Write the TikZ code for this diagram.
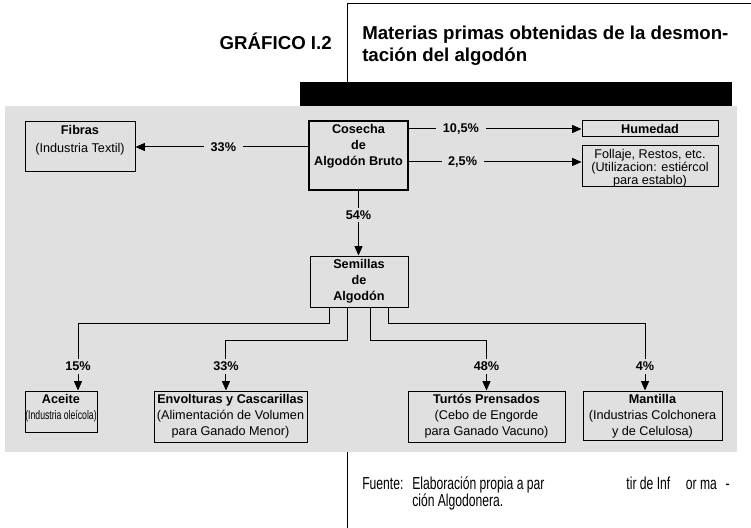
\documentclass[tikz,border=0pt]{standalone}
\usepackage{fontspec}
\setmainfont{Liberation Sans}
\newfontfamily\estrecha{Liberation Sans}[FakeStretch=0.7]
\usetikzlibrary{arrows.meta}
\definecolor{fondo}{RGB}{224,224,224}
\newcommand{\cajatexto}[3]{\parbox[c][#2][t]{#1}{\centering\vspace*{2.5pt}#3}}

\begin{document}
\begin{tikzpicture}[x=0.75pt,y=0.75pt,yscale=-1,xscale=1,
    linea/.style={line width=0.75pt},
    caja/.style={draw, line width=0.75pt, fill=fondo, inner sep=0pt, font=\fontsize{9.5}{12}\selectfont},
    cajagruesa/.style={caja, line width=1.8pt},
    flecha/.style={line width=0.75pt, -{Triangle[length=7pt,width=6pt]}},
    pct/.style={fill=fondo, inner xsep=5pt, inner ysep=2pt, font=\bfseries\fontsize{9.5}{11}\selectfont}]
    \useasboundingbox (0,0) rectangle (751,528);

    %Shape: Rectangle [fondo gris]
    \fill [fondo] (5,106) rectangle (737,452);
    %Shape: Rectangle [barra negra]
    \fill [black] (300,82) rectangle (732,106);
    %Straight Lines [marco del titulo]
    \draw [linea] (347,82) -- (347,4) -- (751,4);
    %Straight Lines [marco de la fuente]
    \draw [linea] (347,452) -- (347,528);

    % Text Node
    \node [anchor=base east, inner sep=0pt, font=\bfseries\fontsize{14}{16.5}\selectfont] (grafico) at (332,50) {GRÁFICO I.2};
    % Text Node
    \node [anchor=base west, inner sep=0pt, align=left, font=\bfseries\fontsize{14}{16.5}\selectfont] (titulo) at (362,62) {Materias primas obtenidas de la desmon-\\tación del algodón};

    % Boxes
    \node [caja] (fibras) at (80,147) {\cajatexto{82.5pt}{37.5pt}{\textbf{Fibras}\\[1.5pt](Industria Textil)}};
    \node [cajagruesa] (cosecha) at (358.5,155.5) {\cajatexto{74.25pt}{51.75pt}{\textbf{Cosecha}\\\textbf{de}\\\textbf{Algodón Bruto}}};
    \node [caja] (humedad) at (650,129) {\cajatexto{102pt}{12pt}{\textbf{Humedad}}};
    \node [caja] (follaje) at (650,166.5) {\cajatexto{102pt}{30.75pt}{\fontsize{9.5}{9.6}\selectfont Follaje, Restos, etc.\\(Utilizacion: estiércol\\para establo)}};
    \node [caja] (semillas) at (359,281.5) {\cajatexto{73.5pt}{38.25pt}{\textbf{Semillas}\\\textbf{de}\\\textbf{Algodón}}};
    \node [caja] (aceite) at (61,411.5) {\cajatexto{54pt}{30.75pt}{\textbf{Aceite}\\{\estrecha\fontsize{9.3}{12}\selectfont (Industria oleícola)}}};
    \node [caja] (envolturas) at (230.5,416.5) {\cajatexto{114.75pt}{38.25pt}{\textbf{Envolturas y Cascarillas}\\(Alimentación de Volumen\\para Ganado Menor)}};
    \node [caja] (turtos) at (486.5,416.5) {\cajatexto{117.75pt}{38.25pt}{\textbf{Turtós Prensados}\\(Cebo de Engorde\\para Ganado Vacuno)}};
    \node [caja] (mantilla) at (652.5,415.5) {\cajatexto{104.25pt}{36.75pt}{\textbf{Mantilla}\\(Industrias Colchonera\\y de Celulosa)}};

    % Connectors from the harvest
    \coordinate (entradaf) at ([yshift=-3.4pt]follaje.west);
    \draw [flecha] (cosecha.west |- fibras.east) -- (fibras.east) node [pct, pos=0.49] {33\%};
    \draw [flecha] (cosecha.east |- humedad.west) -- (humedad.west) node [pct, pos=0.3] {10,5\%};
    \draw [flecha] (cosecha.east |- entradaf) -- (entradaf) node [pct, pos=0.31] {2,5\%};
    \draw [flecha] (cosecha.south) -- (cosecha.south |- semillas.north) node [pct, pos=0.37] {54\%};

    % Connectors from the seeds
    \draw [flecha] ([xshift=-22.5pt]semillas.south) -- ++(0,16) -| ([xshift=12.75pt]aceite.north) node [pct, pos=0.82] {15\%};
    \draw [flecha] ([xshift=-9pt]semillas.south) -- ++(0,33) -| ([xshift=-3.4pt]envolturas.north) node [pct, pos=0.76] {33\%};
    \draw [flecha] ([xshift=8.25pt]semillas.south) -- ++(0,33) -| (turtos.north) node [pct, pos=0.76] {48\%};
    \draw [flecha] ([xshift=21.75pt]semillas.south) -- ++(0,16) -| ([xshift=-5.6pt]mantilla.north) node [pct, pos=0.82] {4\%};

    % Text Node
    \node [anchor=base west, inner sep=0pt, font=\estrecha\fontsize{13}{12.75}\selectfont] (fuente) at (362,489) {Fuente:};
    % Text Node
    \node [anchor=base west, inner sep=0pt, align=left, font=\estrecha\fontsize{13}{12.75}\selectfont] (nota) at (412,506) {\hbox to 238pt{Elaboración propia a par\hfill tir de Inf\hspace{0.9em}or ma\hspace{0.5em}-}\\ción Algodonera.};
\end{tikzpicture}
\end{document}
